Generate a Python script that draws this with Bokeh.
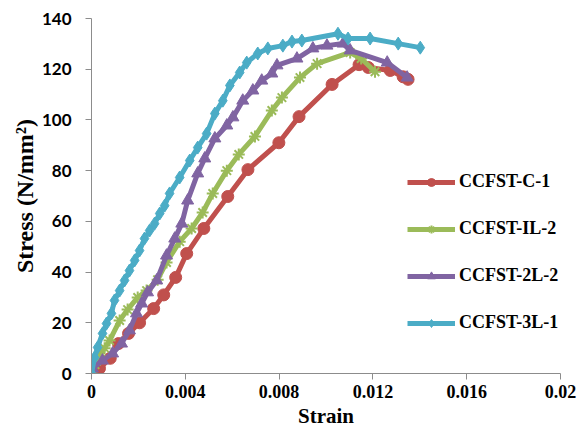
from bokeh.plotting import figure
from bokeh.models import Range1d, FixedTicker, Legend, LegendItem
from bokeh.embed import file_html
from bokeh.resources import INLINE

series_names = ["CCFST-C-1", "CCFST-IL-2", "CCFST-2L-2", "CCFST-3L-1"]

c1_strain = [0, 0.00034, 0.0008, 0.00115, 0.00158, 0.00205, 0.00265, 0.00308, 0.00359, 0.00406,
             0.00479, 0.00581, 0.00667, 0.00799, 0.00885, 0.01026, 0.01141, 0.0118, 0.01274, 0.01329, 0.0135]
c1_stress = [0, 2, 6, 11.8, 15.8, 20, 25.6, 31, 37.9, 47.3,
             57.2, 69.8, 80.4, 91, 101.3, 114, 121.8, 120.7, 119.5, 117, 116]

il2_strain = [0, 0.00015, 0.00034, 0.00056, 0.00077, 0.0012, 0.00154, 0.00197, 0.00235, 0.00282, 0.0032,
              0.00376, 0.00427, 0.00474, 0.00517, 0.00577, 0.00628, 0.00697, 0.00769, 0.00812, 0.00889,
              0.00962, 0.01103, 0.0115, 0.01209]
il2_stress = [0, 3.5, 7, 10, 13, 20.9, 25.2, 30, 32.7, 37, 43.8,
              52, 57.2, 63.5, 71, 80, 86.4, 93.5, 103.7, 108.8, 116.7,
              122.2, 126.6, 124.2, 119]

l2_strain = [0, 0.00004, 0.00047, 0.0009, 0.00128, 0.00162, 0.00192, 0.00214, 0.00239, 0.00278, 0.0032,
             0.00355, 0.00385, 0.0041, 0.00453, 0.00483, 0.00526, 0.00577, 0.00603, 0.00645, 0.00688,
             0.00726, 0.00769, 0.00791, 0.00876, 0.00944, 0.01004, 0.01073, 0.01103, 0.01261, 0.01346]
l2_stress = [0, 2, 5.1, 7.9, 11.8, 17, 23.7, 27.6, 32, 36.7, 46.5,
             53.2, 59.1, 68.2, 78.9, 84.8, 92.7, 97.8, 101, 107.6, 111.6,
             115.5, 118.3, 121.5, 124.2, 128.2, 129.3, 130.1, 127.4, 122.6, 116.7]

l3_strain = [0, 0.00013, 0.00026, 0.00047, 0.00064, 0.00085, 0.00098, 0.0012, 0.00141, 0.00162, 0.00184,
             0.00205, 0.00226, 0.00248, 0.00269, 0.00291, 0.00312, 0.00333, 0.00376, 0.00419, 0.00453,
             0.00491, 0.00526, 0.0056, 0.0059, 0.00632, 0.00662, 0.00709, 0.00752, 0.00816, 0.00855,
             0.00897, 0.01051, 0.01094, 0.01188, 0.01308, 0.01402]
l3_stress = [0, 6.3, 10.3, 15.8, 19.7, 23.7, 28.8, 32.7, 36.7, 40.6, 44.6,
             48.5, 53.2, 56.4, 59.1, 63.1, 66.2, 71, 77.3, 84, 89.1,
             94.6, 102.5, 107.6, 113.6, 118.7, 122.6, 126.2, 128.2, 129.3, 130.9,
             131.3, 134, 132.1, 132.1, 130.1, 128.5]

x_ticks = [0, 0.004, 0.008, 0.012, 0.016, 0.02]
x_tick_labels = ["0", "0.004", "0.008", "0.012", "0.016", "0.02"]
y_ticks = [0, 20, 40, 60, 80, 100, 120, 140]

colors = ["#C0504D", "#9BBB59", "#8064A2", "#4BACC6"]
markers = ["circle", "asterisk", "triangle", "diamond"]
sizes = [12, 12, 12, 13]

p = figure(width=580, height=433, output_backend="svg", toolbar_location=None,
           x_range=Range1d(0, 0.02), y_range=Range1d(0, 140),
           min_border_left=91, min_border_right=20, min_border_top=18, min_border_bottom=60)
p.outline_line_color = None
p.xgrid.visible = False
p.ygrid.visible = False

items = []
data = [(c1_strain, c1_stress), (il2_strain, il2_stress), (l2_strain, l2_stress), (l3_strain, l3_stress)]
for (xs, ys), name, col, mk, sz in zip(data, series_names, colors, markers, sizes):
    ln = p.line(xs, ys, line_color=col, line_width=5)
    if mk == "asterisk":
        sc = p.scatter(xs, ys, marker=mk, size=sz, line_color=col, line_width=2)
    else:
        sc = p.scatter(xs, ys, marker=mk, size=sz, fill_color=col, line_color=col)
    items.append(LegendItem(label=name, renderers=[ln, sc]))

legend = Legend(items=items, location=(306, 30), orientation="vertical",
                glyph_width=48, glyph_height=20, label_height=20, spacing=26,
                label_standoff=4, padding=10, margin=0,
                label_text_font="Liberation Serif", label_text_font_style="bold",
                label_text_font_size="18px", label_text_color="#000000",
                border_line_alpha=0, background_fill_alpha=0)
p.add_layout(legend, "center")

axis_col = "#8C8C8C"
for ax in [p.xaxis[0], p.yaxis[0]]:
    ax.axis_line_color = axis_col
    ax.major_tick_line_color = axis_col
    ax.minor_tick_line_color = None
    ax.major_tick_in = 0
    ax.major_tick_out = 6
    ax.major_label_text_color = "#000000"
    ax.axis_label_text_color = "#000000"
    ax.axis_label_text_font = "Liberation Serif"
    ax.axis_label_text_font_style = "bold"

p.xaxis.ticker = FixedTicker(ticks=x_ticks)
p.xaxis.major_label_overrides = {t: l for t, l in zip(x_ticks, x_tick_labels)}
p.xaxis.major_label_text_font = "Liberation Serif"
p.xaxis.major_label_text_font_style = "bold"
p.xaxis.major_label_text_font_size = "18px"
p.xaxis.major_label_standoff = 5
p.xaxis.axis_label = "Strain"
p.xaxis.axis_label_text_font_size = "21px"
p.xaxis.axis_label_standoff = 3

p.yaxis.ticker = FixedTicker(ticks=y_ticks)
p.yaxis.major_label_text_font = "Lato"
p.yaxis.major_label_text_font_style = "bold"
p.yaxis.major_label_text_font_size = "17px"
p.yaxis.major_label_standoff = 14
p.yaxis.axis_label = "Stress (N/mm²)"
p.yaxis.axis_label_text_font_size = "24px"
p.yaxis.axis_label_standoff = 1

open("out.html", "w").write(file_html(p, INLINE))
